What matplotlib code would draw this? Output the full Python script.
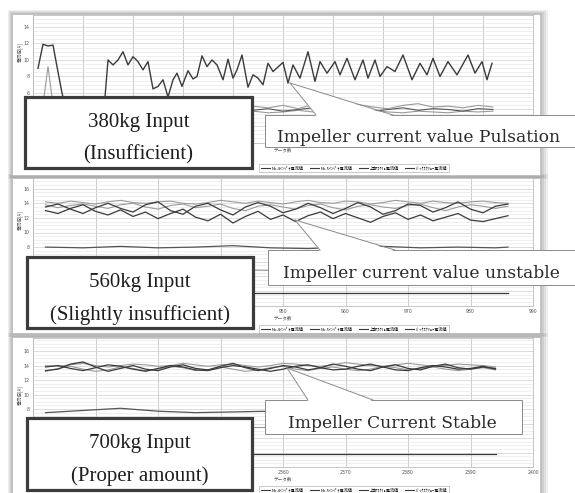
import matplotlib
matplotlib.use("Agg")
import matplotlib.pyplot as plt
from matplotlib.patches import Rectangle, Polygon
from matplotlib.lines import Line2D
from matplotlib.ticker import MultipleLocator

# ---------------- data ----------------
legend_labels = ["No.4ｲﾝﾍﾟﾗ電流値", "No.5ｲﾝﾍﾟﾗ電流値", "上部ｽｸﾘｭ電流値", "ﾊﾞｯｸｽｸﾘｭｰ電流値"]
box_titles = ["380kg Input", "560kg Input", "700kg Input"]
box_subtitles = ["(Insufficient)", "(Slightly insufficient)", "(Proper amount)"]
callouts = ["Impeller current value Pulsation", "Impeller current value unstable",
            "Impeller Current Stable"]
p2_ticklabels = ["", "", "", "", "950", "960", "970", "980", "990"]
p3_ticklabels = ["", "", "", "", "2360", "2370", "2380", "2390", "2400"]

# Panel 1 (380kg)
p1_x_main = [1.0, 2.0, 3.0, 4.0, 4.8, 5.8, 7.0, 13.4, 14.4, 15.0, 16.0, 17.0, 18.0, 19.0,
             20.0, 21.0, 22.0, 23.0, 24.0, 25.0, 26.0, 27.0, 28.0, 28.8, 29.8, 31.0, 32.0,
             32.8, 33.8, 34.8, 35.8, 36.8, 38.0, 39.0, 40.0, 40.8, 41.8, 43.0, 44.0, 45.0,
             46.0, 47.0, 48.0, 50.0, 51.0, 52.0, 53.4, 55.0, 56.4, 57.4, 58.8, 60.4, 61.4,
             62.8, 64.4, 66.0, 67.0, 68.4, 69.4, 70.8, 72.4, 74.0, 75.8, 77.4, 78.8, 80.0,
             81.4, 83.0, 84.8, 87.0, 88.4, 89.8, 90.8, 91.8]
p1_y_main = [9.0, 11.9, 11.7, 11.8, 9.2, 6.0, 3.0, 3.0, 5.5, 10.0, 9.4, 10.0, 11.0, 9.4,
             10.4, 9.8, 8.8, 9.8, 6.5, 6.8, 7.6, 5.5, 7.6, 8.4, 6.8, 8.7, 7.7,
             8.0, 10.5, 9.2, 10.0, 9.4, 7.6, 10.1, 7.8, 8.8, 10.6, 6.7, 8.2, 7.8,
             7.0, 9.6, 8.6, 9.7, 7.2, 9.4, 7.8, 11.0, 7.4, 9.8, 8.4, 9.8, 8.2,
             10.2, 7.6, 10.0, 7.8, 10.0, 8.0, 9.2, 8.6, 10.6, 7.6, 9.6, 8.2, 10.2,
             8.0, 9.8, 8.2, 10.6, 8.4, 9.8, 7.6, 9.6]
p1_x_peak = [1, 2, 3, 4, 6, 20, 40, 44, 47, 50, 53, 56, 59, 62, 65, 68, 71, 74, 77, 80, 83, 86, 89, 92]
p1_y_peak = [4.3, 4.6, 9.2, 4.6, 4.2, 4.3, 4.3, 4.4, 4.2, 4.5, 4.1, 4.6, 4.3, 4.2, 4.6, 4.3,
             4.1, 4.5, 4.7, 4.3, 4.4, 4.2, 4.5, 4.3]
p1_x_low = [1, 10, 20, 30, 40, 44, 47, 50, 53, 56, 59, 62, 65, 68, 71, 74, 77, 80, 83, 86, 89, 92]
p1_y_low_a = [4.0, 4.0, 4.1, 4.0, 4.0, 3.9, 4.1, 3.8, 4.0, 4.2, 3.9, 4.0, 4.1, 3.8, 4.0, 4.2,
              3.9, 4.1, 4.0, 3.8, 4.1, 4.0]
p1_y_low_b = [3.7, 3.7, 3.8, 3.7, 3.7, 3.8, 3.6, 3.7, 3.9, 3.7, 3.8, 3.6, 3.7, 3.9, 3.7, 3.6,
              3.8, 3.7, 3.6, 3.8, 3.7, 3.8]

# Panel 2 (560kg)
p2_x = list(range(912, 988, 2))
p2_top = [14.2, 14.0, 14.3, 14.1, 13.9, 14.2, 14.4, 14.1, 14.0, 14.2, 14.3, 14.0, 13.9, 14.1,
          14.4, 14.2, 14.0, 14.3, 14.1, 13.9, 14.2, 14.4, 14.1, 14.0, 14.3, 14.2, 13.9, 14.1,
          14.4, 14.2, 14.0, 14.3, 14.1, 14.0, 14.2, 14.3, 14.1, 14.0]
p2_w1 = [13.5, 13.9, 13.2, 12.6, 13.4, 14.0, 13.3, 12.8, 13.8, 14.2, 13.0, 12.5, 13.6, 14.0,
         13.1, 12.4, 13.5, 14.1, 13.6, 12.7, 13.2, 14.0, 13.4, 12.6, 13.3, 14.1, 13.5, 12.5,
         13.0, 13.9, 13.7, 12.8, 13.4, 14.2, 13.2, 12.7, 13.6, 13.9]
p2_w2 = [13.0, 12.6, 13.3, 13.8, 12.9, 12.4, 13.1, 12.2, 12.8, 11.9, 12.6, 13.2, 12.1, 11.6,
         12.5, 11.3, 12.2, 12.9, 11.8, 12.4, 11.5, 12.3, 12.8, 11.9, 12.6, 12.0, 11.4, 12.2,
         12.7, 11.8, 12.4, 11.6, 12.1, 12.6, 11.7, 11.5, 11.9, 12.3]
p2_mid = [13.8, 13.4, 13.7, 13.9, 13.6, 13.3, 13.8, 14.0, 13.5, 13.2, 13.7, 13.9, 13.4, 13.6,
          13.9, 13.3, 13.0, 13.6, 13.8, 13.5, 13.2, 13.7, 13.9, 13.4, 13.1, 13.6, 13.8, 13.5,
          13.3, 13.7, 13.9, 13.4, 13.0, 13.5, 13.8, 13.6, 13.3, 13.6]
p2_x_sparse = [912, 918, 924, 930, 936, 942, 948, 954, 960, 966, 972, 978, 984, 986]
p2_eight = [8.0, 7.9, 8.1, 7.9, 8.0, 8.2, 7.9, 7.8, 8.0, 8.1, 7.9, 8.0, 7.9, 8.0]
p2_five = [4.8, 4.8, 4.9, 4.8, 4.8, 4.9, 4.8, 4.8, 4.8, 4.9, 4.8, 4.8, 4.8, 4.8]
p2_low = [1.7, 1.7, 1.7, 1.7, 1.7, 1.7, 1.7, 1.7, 1.7, 1.7, 1.7, 1.7, 1.7, 1.7]

# Panel 3 (700kg)
p3_x = list(range(2322, 2396, 2))
p3_a = [13.3, 13.5, 14.2, 14.5, 13.8, 13.2, 13.6, 14.0, 13.5, 13.3, 13.8, 14.1, 13.6, 13.4,
        13.9, 14.3, 13.7, 13.3, 13.6, 14.0, 13.8, 13.4, 13.7, 14.2, 13.9, 13.5, 13.3, 13.8,
        14.1, 13.6, 13.4, 13.9, 14.2, 13.7, 13.5, 13.8, 13.6]
p3_b = [13.8, 14.0, 13.6, 13.3, 13.7, 14.1, 13.9, 13.5, 13.2, 13.6, 14.0, 13.8, 13.4, 13.3,
        13.7, 14.0, 13.8, 13.5, 13.2, 13.5, 13.9, 14.1, 13.7, 13.4, 13.5, 13.9, 14.2, 13.8,
        13.4, 13.3, 13.7, 14.0, 13.8, 13.5, 13.6, 13.9, 13.5]
p3_c = [14.0, 13.9, 14.1, 14.3, 14.0, 13.8, 14.0, 14.2, 14.1, 13.9, 14.0, 14.3, 14.1, 13.9,
        14.1, 14.2, 14.0, 13.8, 14.0, 14.3, 14.2, 14.0, 13.9, 14.1, 14.4, 14.2, 14.0, 13.9,
        14.1, 14.3, 14.1, 13.9, 14.0, 14.2, 14.1, 14.0, 13.8]
p3_d = [13.2, 13.6, 13.9, 13.5, 13.2, 13.4, 13.8, 13.6, 13.3, 13.5, 13.9, 13.7, 13.3, 13.4,
        13.8, 13.5, 13.2, 13.4, 13.7, 13.9, 13.5, 13.3, 13.6, 13.8, 13.5, 13.3, 13.5, 13.9,
        13.7, 13.4, 13.6, 13.8, 13.5, 13.3, 13.5, 13.7, 13.4]
p3_x_sparse = [2322, 2328, 2334, 2340, 2346, 2352, 2358, 2364, 2370, 2376, 2382, 2388, 2394]
p3_eight = [7.5, 7.8, 8.1, 7.7, 7.5, 7.6, 7.7, 7.5, 7.6, 7.7, 7.6, 7.5, 7.6]
p3_five = [5.5, 5.5, 5.5, 5.5, 5.5, 5.5, 5.5, 5.5, 5.5, 5.5, 5.5, 5.5, 5.5]
p3_low = [1.8, 1.8, 1.8, 1.8, 1.8, 1.8, 1.8, 1.8, 1.8, 1.8, 1.8, 1.8, 1.8]

# ---------------- figure ----------------
W, H = 575, 493
fig = plt.figure(figsize=(W / 100, H / 100), dpi=100)
fig.patch.set_facecolor("white")

CJK = ["Noto Sans CJK JP", "DejaVu Sans"]
SERIF = "Liberation Serif"
SERIF2 = "DejaVu Serif"
DARK = "#3a3a3a"
LIGHT = "#9a9a9a"


def fx(px):
    return px / W


def fy(py):
    return 1 - py / H


def rect(x0, y0, x1, y1):
    return [fx(x0), fy(y1), (x1 - x0) / W, (y1 - y0) / H]


def card(x0, y0, x1, y1):
    for i, a in enumerate([0.10, 0.10, 0.12, 0.14]):
        off = 8 - 2 * i
        fig.patches.append(Rectangle((fx(x0 - off / 2), fy(y1 + off / 2)),
                                     (x1 - x0 + off * 1.5) / W, (y1 - y0 + off) / H,
                                     transform=fig.transFigure, facecolor="#606060",
                                     edgecolor="none", alpha=a, zorder=-3))
    fig.patches.append(Rectangle((fx(x0), fy(y1)), (x1 - x0) / W, (y1 - y0) / H,
                                 transform=fig.transFigure, facecolor="white",
                                 edgecolor="#b8b8b8", lw=0.5, zorder=-2))


card(12, 14, 540, 175)
card(12, 178, 540, 333)
card(12, 337, 540, 500)


def style_axes(ax, xlim, ylim, xstep, xlabels):
    ax.set_xlim(*xlim)
    ax.set_ylim(*ylim)
    ax.set_facecolor("white")
    ax.xaxis.set_major_locator(MultipleLocator(xstep))
    ax.yaxis.set_major_locator(MultipleLocator(2))
    ax.yaxis.set_minor_locator(MultipleLocator(0.5))
    ax.grid(which="major", axis="x", color="#c4c4c4", lw=0.6)
    ax.grid(which="major", axis="y", color="#cfcfcf", lw=0.5)
    ax.grid(which="minor", axis="y", color="#e4e4e4", lw=0.4)
    ax.set_axisbelow(True)
    for s in ax.spines.values():
        s.set_color("#bdbdbd")
        s.set_linewidth(0.6)
    ax.tick_params(which="both", length=0, labelsize=3.3, colors="#555555", pad=2.5)
    ticks = [xlim[0] + i * xstep for i in range(int((xlim[1] - xlim[0]) / xstep) + 1)]
    ax.set_xticks(ticks)
    ax.set_xticklabels(xlabels if xlabels else [""] * len(ticks))
    ax.set_xlim(*xlim)
    ax.set_xlabel("データ数", fontsize=3.3, color="#555555", labelpad=1.5, family=CJK)


def add_legend(ax, ycen, colors, widths):
    handles = [Line2D([], [], color=c, lw=w) for c, w in zip(colors, widths)]
    leg = ax.legend(handles, legend_labels, loc="center right", ncol=4,
                    bbox_to_anchor=(fx(451), fy(ycen)), bbox_transform=fig.transFigure,
                    prop={"family": CJK, "size": 3.0}, frameon=True, fancybox=False,
                    edgecolor="#a0a0a0", handlelength=2.2, handletextpad=0.5,
                    columnspacing=1.4, borderpad=0.35)
    leg.get_frame().set_linewidth(0.5)
    leg.set_zorder(2)


# Panel 1
ax1 = fig.add_axes(rect(33, 15, 533, 142.5))
style_axes(ax1, (0, 100), (0, 15.45), 10, None)
ax1.plot(p1_x_low, p1_y_low_b, color=LIGHT, lw=0.8)
ax1.plot(p1_x_low, p1_y_low_a, color="#555555", lw=0.8)
ax1.plot(p1_x_peak, p1_y_peak, color=LIGHT, lw=0.8)
ax1.plot(p1_x_main, p1_y_main, color=DARK, lw=1.0)
add_legend(ax1, 168, [DARK, DARK, DARK, DARK], [0.8] * 4)

# Panel 2
ax2 = fig.add_axes(rect(33, 177.75, 533, 305.5))
style_axes(ax2, (910, 990), (0, 17.5), 10, p2_ticklabels)
ax2.plot(p2_x_sparse, p2_low, color=DARK, lw=0.9)
ax2.plot(p2_x_sparse, p2_five, color=LIGHT, lw=0.8)
ax2.plot(p2_x_sparse, p2_eight, color="#555555", lw=0.9)
ax2.plot(p2_x, p2_top, color=LIGHT, lw=0.8)
ax2.plot(p2_x, p2_mid, color=LIGHT, lw=0.8)
ax2.plot(p2_x, p2_w2, color=DARK, lw=0.9)
ax2.plot(p2_x, p2_w1, color=DARK, lw=0.9)
add_legend(ax2, 329, [DARK, DARK, DARK, DARK], [0.8] * 4)

# Panel 3
ax3 = fig.add_axes(rect(33, 338, 533, 467))
style_axes(ax3, (2320, 2400), (0, 17.8), 10, p3_ticklabels)
ax3.plot(p3_x_sparse, p3_low, color=DARK, lw=0.9)
ax3.plot(p3_x_sparse, p3_five, color=LIGHT, lw=0.8)
ax3.plot(p3_x_sparse, p3_eight, color="#555555", lw=0.9)
ax3.plot(p3_x, p3_c, color=LIGHT, lw=0.8)
ax3.plot(p3_x, p3_d, color=LIGHT, lw=0.8)
ax3.plot(p3_x, p3_b, color=DARK, lw=0.9)
ax3.plot(p3_x, p3_a, color=DARK, lw=0.9)
add_legend(ax3, 490, [DARK, DARK, DARK, DARK], [0.8] * 4)

# y-axis labels
for yc in [52, 220, 395]:
    fig.text(fx(20), fy(yc), "電流値[A]", rotation=90, ha="center", va="center",
             fontsize=3.3, color="#555555", family=CJK)

# ---------------- callouts ----------------
call_boxes = [(265, 115, 585, 147), (268, 250, 585, 285), (265, 400, 522, 434)]
call_tips = [((290, 83), (316, 393)), ((295, 220), (320, 395)), ((287, 368), (308, 373))]
call_text_pos = [(277, 142), (283, 278), (288, 428)]
for (x0, y0, x1, y1), (tip, (b0, b1)), (tx, ty), txt in zip(call_boxes, call_tips,
                                                              call_text_pos, callouts):
    fig.patches.append(Rectangle((fx(x0), fy(y1)), (x1 - x0) / W, (y1 - y0) / H,
                                 transform=fig.transFigure, facecolor="white",
                                 edgecolor="#8a8a8a", lw=0.7, zorder=4))
    fig.patches.append(Polygon([(fx(tip[0]), fy(tip[1])), (fx(b0), fy(y0 + 1.2)),
                                (fx(b1), fy(y0 + 1.2))], closed=True,
                               transform=fig.transFigure, facecolor="white",
                               edgecolor="none", zorder=4.5))
    for bx in (b0, b1):
        fig.lines.append(Line2D([fx(tip[0]), fx(bx)], [fy(tip[1]), fy(y0)],
                                transform=fig.transFigure, color="#8a8a8a", lw=0.7,
                                zorder=4.6))
    fig.text(fx(tx), fy(ty), txt, ha="left", va="baseline", fontsize=12.3,
             family=SERIF2, color="#2a2a2a", zorder=5)

big_boxes = [(25, 97, 252, 168), (27, 257, 253, 328), (27, 418, 252, 490)]
big_base = [(127, 159), (287, 320), (448, 481)]
for (x0, y0, x1, y1), (b1, b2), t1, t2 in zip(big_boxes, big_base, box_titles, box_subtitles):
    fig.patches.append(Rectangle((fx(x0), fy(y1)), (x1 - x0) / W, (y1 - y0) / H,
                                 transform=fig.transFigure, facecolor="white",
                                 edgecolor="#3c3c3c", lw=2.3, zorder=6))
    xc = (x0 + x1) / 2
    fig.text(fx(xc), fy(b1), t1, ha="center", va="baseline", fontsize=15,
             family=SERIF, color="#1e1e1e", zorder=7)
    fig.text(fx(xc), fy(b2), t2, ha="center", va="baseline", fontsize=15,
             family=SERIF, color="#1e1e1e", zorder=7)

fig.savefig("out.png", dpi=100, facecolor="white")
